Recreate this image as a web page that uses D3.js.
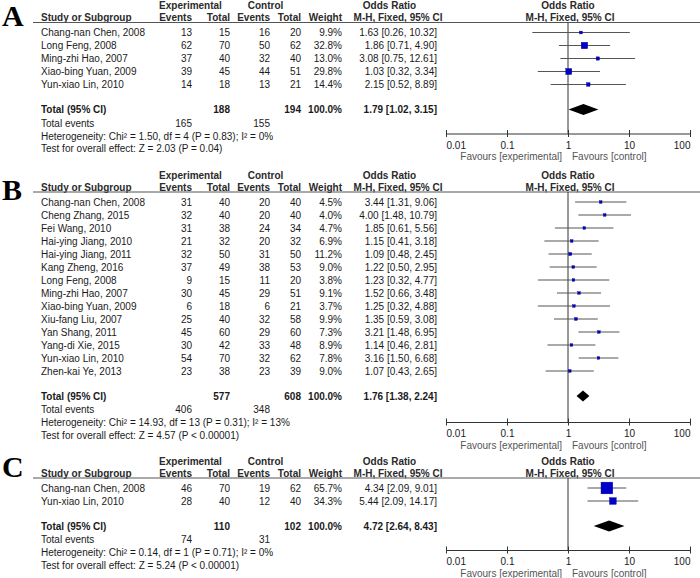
<!DOCTYPE html>
<html>
<head>
<meta charset="utf-8">
<script src="https://cdn.jsdelivr.net/npm/d3@7"></script>
<style>
  html, body { margin: 0; padding: 0; background: #fff; }
  svg { display: block; }
  text { font-family: "Liberation Sans", Arial, sans-serif; font-size: 10px; fill: #1a1a1a; }
</style>
</head>
<body>
<svg id="chart" width="700" height="578"></svg>
<script>
// ---------------- DATA ----------------
const tickValues = [0.01, 0.1, 1, 10, 100];
const tickLabels = ["0.01", "0.1", "1", "10", "100"];
const panelLetters = ["A", "B", "C"];

// Panel A
const studiesA = ["Chang-nan Chen, 2008", "Long Feng, 2008", "Ming-zhi Hao, 2007", "Xiao-bing Yuan, 2009", "Yun-xiao Lin, 2010"];
const expEventsA = [13, 62, 37, 39, 14];
const expTotalA = [15, 70, 40, 45, 18];
const ctrlEventsA = [16, 50, 32, 44, 13];
const ctrlTotalA = [20, 62, 40, 51, 21];
const weightA = [9.9, 32.8, 13.0, 29.8, 14.4];
const orA = [1.63, 1.86, 3.08, 1.03, 2.15];
const lowerA = [0.26, 0.71, 0.75, 0.32, 0.52];
const upperA = [10.32, 4.90, 12.61, 3.34, 8.89];
const totalA = [188, 194, 1.79, 1.02, 3.15];      // exp total, ctrl total, OR, lower, upper
const totalEventsA = [165, 155];
const hetA = "Heterogeneity: Chi² = 1.50, df = 4 (P = 0.83); I² = 0%";
const testA = "Test for overall effect: Z = 2.03 (P = 0.04)";

// Panel B
const studiesB = ["Chang-nan Chen, 2008", "Cheng Zhang, 2015", "Fei Wang, 2010", "Hai-ying Jiang, 2010", "Hai-ying Jiang, 2011", "Kang Zheng, 2016", "Long Feng, 2008", "Ming-zhi Hao, 2007", "Xiao-bing Yuan, 2009", "Xiu-fang Liu, 2007", "Yan Shang, 2011", "Yang-di Xie, 2015", "Yun-xiao Lin, 2010", "Zhen-kai Ye, 2013"];
const expEventsB = [31, 32, 31, 21, 32, 37, 9, 30, 6, 25, 45, 30, 54, 23];
const expTotalB = [40, 40, 38, 32, 50, 49, 15, 45, 18, 40, 60, 42, 70, 38];
const ctrlEventsB = [20, 20, 24, 20, 31, 38, 11, 29, 6, 32, 29, 33, 32, 23];
const ctrlTotalB = [40, 40, 34, 32, 50, 53, 20, 51, 21, 58, 60, 48, 62, 39];
const weightB = [4.5, 4.0, 4.7, 6.9, 11.2, 9.0, 3.8, 9.1, 3.7, 9.9, 7.3, 8.9, 7.8, 9.0];
const orB = [3.44, 4.00, 1.85, 1.15, 1.09, 1.22, 1.23, 1.52, 1.25, 1.35, 3.21, 1.14, 3.16, 1.07];
const lowerB = [1.31, 1.48, 0.61, 0.41, 0.48, 0.50, 0.32, 0.66, 0.32, 0.59, 1.48, 0.46, 1.50, 0.43];
const upperB = [9.06, 10.79, 5.56, 3.18, 2.45, 2.95, 4.77, 3.48, 4.88, 3.08, 6.95, 2.81, 6.68, 2.65];
const totalB = [577, 608, 1.76, 1.38, 2.24];
const totalEventsB = [406, 348];
const hetB = "Heterogeneity: Chi² = 14.93, df = 13 (P = 0.31); I² = 13%";
const testB = "Test for overall effect: Z = 4.57 (P < 0.00001)";

// Panel C
const studiesC = ["Chang-nan Chen, 2008", "Yun-xiao Lin, 2010"];
const expEventsC = [46, 28];
const expTotalC = [70, 40];
const ctrlEventsC = [19, 12];
const ctrlTotalC = [62, 40];
const weightC = [65.7, 34.3];
const orC = [4.34, 5.44];
const lowerC = [2.09, 2.09];
const upperC = [9.01, 14.17];
const totalC = [110, 102, 4.72, 2.64, 8.43];
const totalEventsC = [74, 31];
const hetC = "Heterogeneity: Chi² = 0.14, df = 1 (P = 0.71); I² = 0%";
const testC = "Test for overall effect: Z = 5.24 (P < 0.00001)";

// ---------------- LAYOUT ----------------
const svg = d3.select("#chart");
const x = d3.scaleLog().domain([0.01, 100]).range([446, 690]);
const boxSize = d3.scaleLinear().domain([0, 100]).range([1.2, 17.2]);
const fmt2 = d3.format(".2f");
const fmtW = d3.format(".1f");

const col = { study: 41, expEv: 192, expTot: 230, ctrlEv: 270, ctrlTot: 301, weight: 342, ci: 437 };

const panels = [
  { letter: panelLetters[0], letterY: 26, line: 22.5, studies: studiesA, ee: expEventsA, et: expTotalA, ce: ctrlEventsA, ct: ctrlTotalA, w: weightA, or: orA, lo: lowerA, hi: upperA, tot: totalA, tev: totalEventsA, het: hetA, test: testA, axisGap: 24 },
  { letter: panelLetters[1], letterY: 200, line: 192, studies: studiesB, ee: expEventsB, et: expTotalB, ce: ctrlEventsB, ct: ctrlTotalB, w: weightB, or: orB, lo: lowerB, hi: upperB, tot: totalB, tev: totalEventsB, het: hetB, test: testB, axisGap: 26 },
  { letter: panelLetters[2], letterY: 477, line: 478, studies: studiesC, ee: expEventsC, et: expTotalC, ce: ctrlEventsC, ct: ctrlTotalC, w: weightC, or: orC, lo: lowerC, hi: upperC, tot: totalC, tev: totalEventsC, het: hetC, test: testC, axisGap: 24 }
];

function txt(g, xp, yp, s, anchor, bold, color) {
  const t = g.append("text").attr("x", xp).attr("y", yp).attr("dy", "0.35em")
    .attr("text-anchor", anchor || "start").text(s);
  if (bold) t.attr("font-weight", "bold");
  if (color) t.style("fill", color);
  return t;
}

panels.forEach(p => {
  const g = svg.append("g");
  const n = p.studies.length;
  const y = d3.scaleLinear().domain([0, 1]).range([p.line + 10, p.line + 23]);
  const yTotal = y(n - 1) + 25;
  const yEvents = yTotal + 13.5;
  const yHet = yEvents + 13;
  const yTest = yHet + 12.7;
  const yAxis = yTotal + p.axisGap;

  // Panel letter
  g.append("text").attr("x", 2).attr("y", p.letterY).text(p.letter)
    .style("font-family", "'Liberation Serif', 'Times New Roman', serif")
    .style("font-size", "30px").style("font-weight", "bold").style("fill", "#000");

  // Headers
  const h1 = p.line - 17, h2 = p.line - 5;
  const hc = "#2a2a2a";
  txt(g, 190.5, h1, "Experimental", "middle", true, hc);
  txt(g, 265.5, h1, "Control", "middle", true, hc);
  txt(g, 389.5, h1, "Odds Ratio", "middle", true, hc);
  txt(g, 568, h1, "Odds Ratio", "middle", true, hc);
  txt(g, col.study, h2, "Study or Subgroup", "start", true, hc);
  txt(g, col.expEv, h2, "Events", "end", true, hc);
  txt(g, col.expTot, h2, "Total", "end", true, hc);
  txt(g, col.ctrlEv, h2, "Events", "end", true, hc);
  txt(g, col.ctrlTot, h2, "Total", "end", true, hc);
  txt(g, col.weight, h2, "Weight", "end", true, hc);
  txt(g, 398, h2, "M-H, Fixed, 95% CI", "middle", true, hc);
  txt(g, 570, h2, "M-H, Fixed, 95% CI", "middle", true, hc);

  // Header rule
  g.append("line").attr("x1", 33).attr("x2", 700).attr("y1", p.line).attr("y2", p.line)
    .attr("stroke", "#555").attr("stroke-width", 1);

  // Vertical no-effect line
  g.append("line").attr("x1", x(1)).attr("x2", x(1)).attr("y1", p.line).attr("y2", yAxis)
    .attr("stroke", "#333").attr("stroke-width", 1);

  // Study rows
  p.studies.forEach((s, i) => {
    const yy = y(i);
    txt(g, col.study, yy, s);
    txt(g, col.expEv, yy, p.ee[i], "end");
    txt(g, col.expTot, yy, p.et[i], "end");
    txt(g, col.ctrlEv, yy, p.ce[i], "end");
    txt(g, col.ctrlTot, yy, p.ct[i], "end");
    txt(g, col.weight, yy, fmtW(p.w[i]) + "%", "end");
    txt(g, col.ci, yy, fmt2(p.or[i]) + " [" + fmt2(p.lo[i]) + ", " + fmt2(p.hi[i]) + "]", "end");
    g.append("line").attr("x1", x(p.lo[i])).attr("x2", x(p.hi[i])).attr("y1", yy).attr("y2", yy)
      .attr("stroke", "#555").attr("stroke-width", 1);
    const s2 = Math.max(2.6, boxSize(p.w[i]));
    g.append("rect").attr("x", x(p.or[i]) - s2 / 2).attr("y", yy - s2 / 2)
      .attr("width", s2).attr("height", s2)
      .attr("fill", "#0000c8").attr("stroke", "#00008b").attr("stroke-width", 0.4);
  });

  // Total row
  txt(g, col.study, yTotal, "Total (95% CI)", "start", true);
  txt(g, col.expTot, yTotal, p.tot[0], "end", true);
  txt(g, col.ctrlTot, yTotal, p.tot[1], "end", true);
  txt(g, col.weight, yTotal, "100.0%", "end", true);
  txt(g, col.ci, yTotal, fmt2(p.tot[2]) + " [" + fmt2(p.tot[3]) + ", " + fmt2(p.tot[4]) + "]", "end", true);
  const dh = 5.5;
  g.append("path")
    .attr("d", `M${x(p.tot[3])},${yTotal} L${x(p.tot[2])},${yTotal - dh} L${x(p.tot[4])},${yTotal} L${x(p.tot[2])},${yTotal + dh} Z`)
    .attr("fill", "#000");

  txt(g, col.study, yEvents, "Total events");
  txt(g, col.expEv, yEvents, p.tev[0], "end");
  txt(g, col.ctrlEv, yEvents, p.tev[1], "end");
  txt(g, col.study, yHet, p.het);
  txt(g, col.study, yTest, p.test);

  // Axis
  const axis = d3.axisBottom(x).tickValues(tickValues)
    .tickFormat((d, i) => tickLabels[i]).tickSizeInner(3).tickSizeOuter(0).tickPadding(5);
  const ag = g.append("g").attr("transform", `translate(0,${yAxis})`).call(axis);
  ag.select(".domain").attr("stroke", "#333");
  ag.selectAll(".tick line").attr("y1", -3.5).attr("y2", 3.5).attr("stroke", "#333");
  ag.selectAll(".tick text").attr("font-size", null).attr("font-family", null)
    .style("font-size", "10px").style("fill", "#1a1a1a")
    .attr("text-anchor", (d, i) => i === 0 ? "start" : (i === tickValues.length - 1 ? "end" : "middle"));

  txt(g, x(1) - 6, yAxis + 23, "Favours [experimental]", "end", false, "#555");
  txt(g, x(1) + 4, yAxis + 23, "Favours [control]", "start", false, "#555");
});
</script>
</body>
</html>
